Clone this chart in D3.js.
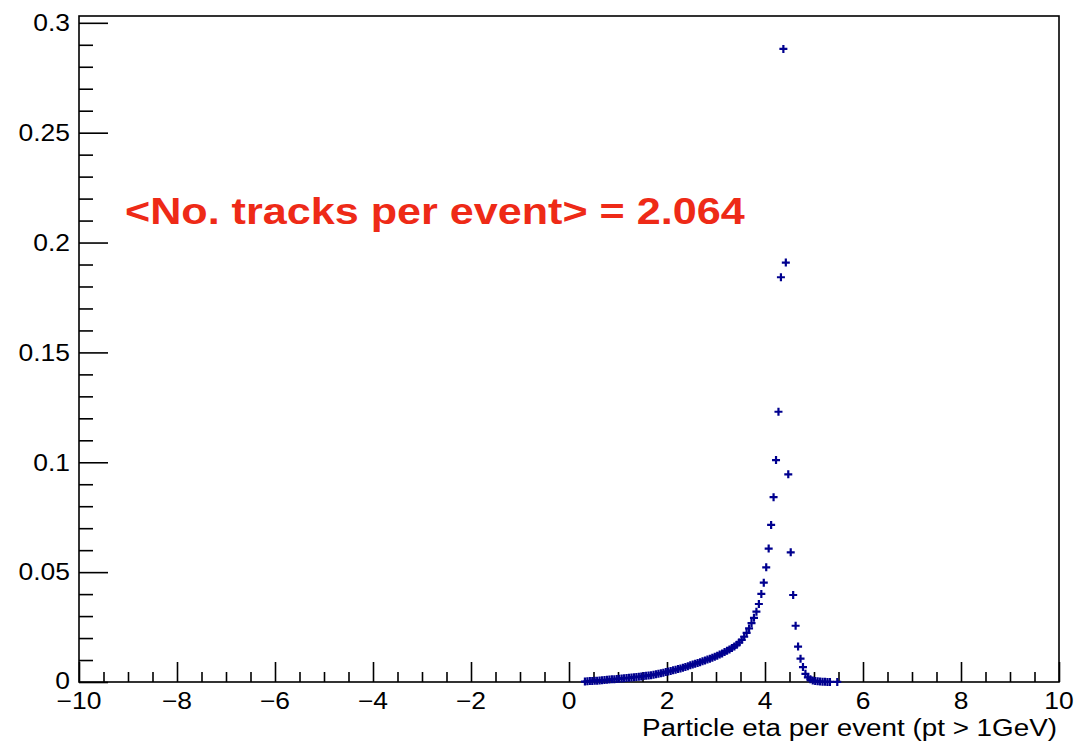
<!DOCTYPE html>
<html>
<head>
<meta charset="utf-8">
<script src="https://cdn.jsdelivr.net/npm/d3@7"></script>
<style>
  html, body { margin: 0; padding: 0; background: #ffffff; }
  svg { display: block; }
  text { font-family: "Liberation Sans", Arial, Helvetica, sans-serif; }
</style>
</head>
<body>
<svg id="chart" width="1080" height="748"></svg>
<script>
// ---- data ----
const etaCenters = [
  0.325, 0.375, 0.425, 0.475, 0.525, 0.575, 0.625, 0.675, 0.725, 0.775,
  0.825, 0.875, 0.925, 0.975, 1.025, 1.075, 1.125, 1.175, 1.225, 1.275,
  1.325, 1.375, 1.425, 1.475, 1.525, 1.575, 1.625, 1.675, 1.725, 1.775,
  1.825, 1.875, 1.925, 1.975, 2.025, 2.075, 2.125, 2.175, 2.225, 2.275,
  2.325, 2.375, 2.425, 2.475, 2.525, 2.575, 2.625, 2.675, 2.725, 2.775,
  2.825, 2.875, 2.925, 2.975, 3.025, 3.075, 3.125, 3.175, 3.225, 3.275,
  3.325, 3.375, 3.425, 3.475, 3.525, 3.575, 3.625, 3.675, 3.725, 3.775,
  3.825, 3.875, 3.925, 3.975, 4.025, 4.075, 4.125, 4.175, 4.225, 4.275,
  4.325, 4.375, 4.425, 4.475, 4.525, 4.575, 4.625, 4.675, 4.725, 4.775,
  4.825, 4.875, 4.925, 4.975, 5.025, 5.075, 5.125, 5.175, 5.225, 5.275,
  5.325, 5.475
];
const fractions = [
  0.0002, 0.0003, 0.0004, 0.0005, 0.0006, 0.0006, 0.0007, 0.0008, 0.0009, 0.0010,
  0.0011, 0.0012, 0.0013, 0.0014, 0.0015, 0.0016, 0.0017, 0.0018, 0.0019, 0.0020,
  0.0022, 0.0023, 0.0024, 0.0025, 0.0027, 0.0028, 0.0030, 0.0031, 0.0033, 0.0035,
  0.0037, 0.0040, 0.0042, 0.0045, 0.0048, 0.0050, 0.0053, 0.0056, 0.0059, 0.0062,
  0.0065, 0.0068, 0.0072, 0.0076, 0.0080, 0.0083, 0.0087, 0.0090, 0.0094, 0.0098,
  0.0102, 0.0106, 0.0110, 0.0115, 0.0120, 0.0125, 0.0130, 0.0136, 0.0142, 0.0148,
  0.0155, 0.0162, 0.0170, 0.0180, 0.0192, 0.0206, 0.0224, 0.0244, 0.0268, 0.0292,
  0.0320, 0.0355, 0.0401, 0.0452, 0.0522, 0.0607, 0.0715, 0.0841, 0.1010, 0.1230,
  0.1842, 0.2881, 0.1909, 0.0945, 0.0590, 0.0396, 0.0256, 0.0161, 0.0106, 0.0068,
  0.0037, 0.0021, 0.0012, 0.0007, 0.0004, 0.0003, 0.0002, 0.0001, 0.0001, 0.00005,
  0.00003, 0.00002
];
const xTickValues = [-10, -8, -6, -4, -2, 0, 2, 4, 6, 8, 10];
const xTickLabels = ["\u221210", "\u22128", "\u22126", "\u22124", "\u22122", "0", "2", "4", "6", "8", "10"];
const yTickValues = [0, 0.05, 0.1, 0.15, 0.2, 0.25, 0.3];
const yTickLabels = ["0", "0.05", "0.1", "0.15", "0.2", "0.25", "0.3"];
const xTitle = "Particle eta per event (pt > 1GeV)";
const annotation = "<No. tracks per event> = 2.064";

// ---- layout ----
const plotLeft = 79, plotRight = 1059, plotTop = 16, plotBottom = 682;
const stretch = 1.15; // reference text is horizontally stretched
const svg = d3.select("#chart");

const x = d3.scaleLinear().domain([-10, 10]).range([plotLeft, plotRight]);
const y = d3.scaleLinear().domain([0, 0.3031]).range([plotBottom, plotTop]);

// frame
svg.append("rect")
  .attr("x", plotLeft).attr("y", plotTop)
  .attr("width", plotRight - plotLeft).attr("height", plotBottom - plotTop)
  .attr("fill", "none").attr("stroke", "#000").attr("stroke-width", 1.6);

// x axis ticks (major + minor) via d3 axis
const xMinor = d3.range(-10, 10.001, 0.5).filter(v => Math.abs(v / 2 - Math.round(v / 2)) > 1e-6);
const xAxisMajor = d3.axisTop(x).tickValues(xTickValues).tickSize(20).tickFormat("");
const xAxisMinor = d3.axisTop(x).tickValues(xMinor).tickSize(10).tickFormat("");
[xAxisMajor, xAxisMinor].forEach(ax => {
  const g = svg.append("g").attr("transform", `translate(0,${plotBottom})`).call(ax);
  g.select(".domain").remove();
  g.selectAll("line").attr("stroke", "#000").attr("stroke-width", 1.6);
});

// y axis ticks
const yMinor = d3.range(0, 0.3001, 0.01).filter(v => Math.abs(v / 0.05 - Math.round(v / 0.05)) > 1e-6);
const yAxisMajor = d3.axisRight(y).tickValues(yTickValues).tickSize(29).tickFormat("");
const yAxisMinor = d3.axisRight(y).tickValues(yMinor).tickSize(14).tickFormat("");
[yAxisMajor, yAxisMinor].forEach(ax => {
  const g = svg.append("g").attr("transform", `translate(${plotLeft},0)`).call(ax);
  g.select(".domain").remove();
  g.selectAll("line").attr("stroke", "#000").attr("stroke-width", 1.6);
});

// stretched text helper
function stext(px, py, str, size, anchor, opts = {}) {
  const t = svg.append("text")
    .attr("transform", `translate(${px},${py}) scale(${stretch},1)`)
    .attr("text-anchor", anchor)
    .attr("font-size", size)
    .attr("fill", opts.fill || "#000")
    .attr("font-weight", opts.weight || "normal")
    .text(str);
  return t;
}

// x tick labels
xTickValues.forEach((v, i) => stext(x(v), 709, xTickLabels[i], 23, "middle"));
// y tick labels (the zero label sits slightly higher to clear the x labels)
yTickValues.forEach((v, i) => stext(70, y(v) + (v === 0 ? 7 : 8.3), yTickLabels[i], 23, "end"));

// x title
stext(1057, 736, xTitle, 24.2, "end");

// annotation
stext(125, 224, annotation, 37.5, "start", { fill: "#ee2a17", weight: "bold" });

// markers (plus signs)
const pts = etaCenters.map((e, i) => ({ e, v: fractions[i] }));
const arm = 4;
const mk = svg.append("g").attr("stroke", "#00008f").attr("stroke-width", 2.2);
mk.selectAll("path").data(pts).join("path")
  .attr("d", d => {
    const cx = x(d.e), cy = y(d.v);
    return `M${cx - arm},${cy}H${cx + arm}M${cx},${cy - arm}V${cy + arm}`;
  });
</script>
</body>
</html>
